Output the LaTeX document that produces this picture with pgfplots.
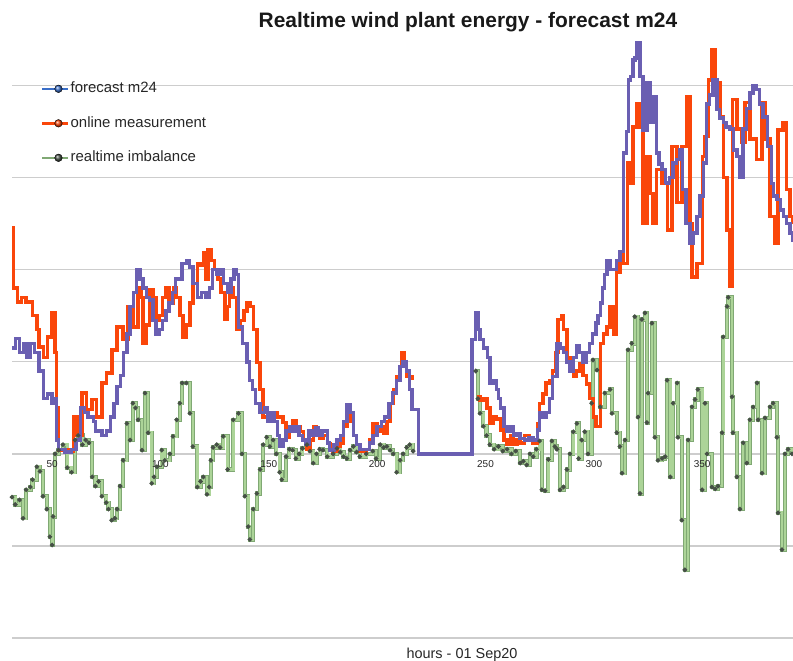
\documentclass[border=0pt]{standalone}
\usepackage{fontspec}
\setmainfont{Liberation Sans}
\usepackage{pgfplots}
\usepackage{pgfplotstable}
\pgfplotsset{compat=1.18}
\definecolor{fcline}{RGB}{106,95,178}
\definecolor{fcleg}{RGB}{58,110,200}
\definecolor{mline}{RGB}{250,70,10}
\definecolor{imlight}{RGB}{172,212,152}
\definecolor{imdark}{RGB}{128,168,116}
\definecolor{imdot}{RGB}{70,80,70}
\definecolor{gridgray}{RGB}{205,205,205}

% forecast m24
\pgfplotstableread{
h v
31.5 11.5
33 12.5
35 11
37 12
38.5 10.5
40 12
42 11
44 9
46 6
48 6.5
50 5.5
51.5 6
52 1.5
53 0.5
56 0.2
59 0.5
61 1.5
63 5
65 4.5
66.5 4
69 3.5
70 2.5
73 2
75 2.5
77 4
78.5 5.5
80 7.3
81.5 8.5
83 11
84.5 13
86 16
87.5 17.5
89 20
90.5 19
92 18
93.5 17
95 16.7
96.5 14.5
98 13
99.5 13.5
101 14.5
102.5 15.5
104 16.4
105.5 17.5
107 19
108.5 19
110 20.7
112 21
113.5 20.3
115 18.5
117 17
119 17.5
121 17
122.5 18
124 20
126 19.5
127.5 20
129 18.5
131 17.5
132.5 19
134 20
135 19.5
136 13.8
138 12
140 10
141 8
142.5 7
144 5.5
146 4.5
148 5
149.5 3.5
151 4.5
152.5 3.5
154 2
155 0.8
156.5 1.5
158 2.5
159.5 3
161 2.5
162.5 3
164 2
165.5 1.5
167 1
168.5 2.5
170 2
171.5 2.8
173 2
174.5 2.5
176 2.5
177 1.2
178 0.4
180 1
181.5 1.5
183 2
184.5 3.5
186 5.3
187.5 4.5
189 2
190.5 1
192 0.5
195 0.5
196.5 1.2
198 2
200 3
202 3.5
203.5 4
205.5 5.5
207 6.6
209 8
210.6 9.5
212 10
213.6 9
215 7
216 4.8
217.5 4.8
219 0
243.8 12.4
245.5 15.3
246.5 13.5
247.5 12.4
249 11.5
251 10.5
252 7.7
253.5 8
255 7
256 6
257 5
258.5 3
260 2.5
261.5 3
263 2
264.5 2.2
266 1.7
268 1.5
270 1.8
272 1.5
274 2.6
275 4.5
276.5 4
278 4.5
279.5 6
281 8.4
283 12
284.5 11.5
286 11
287.5 10
289 9
290.5 10.5
292 11.7
293.5 11
295 10
296.5 11
298 12
299.5 13
301 14.2
302 15
303 16.4
304 18
305 19.5
306 21
307.5 20
309 20
310.5 21
312 22
313.6 32.7
315 35
316 40.6
317 41
318 42.8
319 43
320 44.7
321.3 41
322.7 35.2
324.5 40.3
326 36
327.3 38.8
329 32.7
330 31.5
331.5 30.9
333 29.5
333.8 29.4
335 30
336.6 31.6
338 32
339.8 33
341 28.7
342.5 25
344.4 22.9
346 24
347.6 25.8
349 28
350.5 31.6
352 38
353.5 39
355 40.6
356.8 37.4
358 36.5
359.7 36
361 35.5
362.8 35.3
364.5 33
366 32.3
367.4 30
368.9 35.3
370.5 37.5
372 39.2
373.5 40
375 39.6
376.5 38
378 36.6
380 33.4
382 29.4
383 28
384.5 27.6
386 26.5
387.4 25.8
389 25
390.5 24
391.9 23
}\forecast

% online measurement
\pgfplotstableread{
h v
31.5 24.6
32.2 18
34 16.5
36 17
38 16.5
40 16.5
41 15
43 13.5
44 11.6
46 10.5
48 12.7
50 15.3
51.4 11
52 5
53 0.4
56 0.5
58 0.3
60 4
61.5 2
63.8 6.6
66 4.8
68.4 5.9
70.6 4
73 7.7
75 8.8
77.6 11.3
80 13.8
82.8 12.4
85 16
87.3 13.8
89.7 18
91 17
92 12
93.5 14
95 17.8
96.5 17
98 14.5
99.5 15
101 17
102.5 18
104 16.4
106 18
107.5 17
109 15
110.5 12.7
112 14
113.6 16.4
115 18.5
117 20.7
118.5 20.5
119.8 21.8
121 19
122 22.2
123.5 21
125 20
126.5 19
128 17.5
129.8 14.6
131 16
132 18
133.5 17
135 13.5
136.7 14.5
138.5 15.5
140 16.4
141.5 16
143 13.5
144.6 9.9
146 7
147.4 4
149 4
150.5 3.5
152 4.5
154 4
156.5 3.4
158 1.8
159.5 2.5
161 3.6
162.5 3
164.4 2.4
166 1.5
167.6 0.5
169 1.5
170.5 3
172 2.2
173.6 1.7
175 2
177 1.1
178.5 0.6
179.7 0.3
181.5 0.8
183 1.1
184.5 3
186 4.8
187.5 3.5
189 2
190.5 1
192 0.3
195 0.5
196.5 1.5
198 3.3
200 2.5
201.5 3
203 2.2
204.5 3.5
206 5.5
207.5 7
209 8.4
210.5 9.5
211.5 11
212.5 10
213.6 8.4
215 8.4
216 8
217 nan
246 6.2
247.5 5.8
249 6
250.6 5
252 3.3
253.5 4
255 3.8
257 2.6
258.5 1.5
260 1
261.5 2
263 1
264.5 1.5
266 1.2
268 2
270 1.5
272 1.2
274 3.3
275 5.5
276.5 6.5
278 7.7
279.5 8
281 9
282.5 11
283.5 14.6
285 15
286 13.5
287.6 10.5
289 9.5
290.5 8.4
292 9
293.6 9.8
295 8.5
296.7 7.6
298 6
299.7 4
301 3
303 12
304.5 13
306 13.8
307.5 16
309 13
310.5 19.7
312 22
313.6 20.7
315.4 31.6
316.7 29.4
318 35.5
320 38
321.3 35.5
322.7 25
324.5 32.3
326 28.3
327.3 25
329 30.9
331.5 29.4
334 24.3
336 33.4
338.3 27.3
340.6 33.4
343 38.8
344.4 25
345.3 19.2
347.6 20.7
350 32.3
351.3 34.5
352.8 40.6
354.5 43.9
356 40.3
358.2 36.6
359.7 30
361.5 24.3
362.8 18.2
364 38.5
366 35.3
368.4 33.8
369.8 38.2
372 34.2
375 32
377.6 38.2
379 34.2
381.3 25.8
383.6 22.9
385 35.2
387.3 36
389 28.7
390.5 25.8
391.9 25
}\measured

% realtime imbalance
\pgfplotstableread{
h v
31.5 -4.7
33 -5.5
35 -5
36.6 -7
38 -3.9
40 -3.6
41 -2.8
43 -1.4
44.4 -1.9
45.8 -4.6
47.6 -6
49 -9
50 -9.9
50.5 -6.8
51.4 0
53 0.4
55 1
57 -1.5
59 -2
60.6 1.5
62 2
64 1
65.5 1.5
67 1.2
68.5 -2.5
70 -3.5
71.5 -3
73 -4.6
75 -5.3
76 -6
77.5 -7.2
79 -7
80 -6
81.4 -3.5
82.8 -0.7
84.5 3.3
86 1.5
87.3 5.5
88.5 5
89.7 3.7
91.5 0.4
92.9 6.6
94.3 2.3
96 -3.2
97 -2.5
98.4 -1.4
100.6 0.4
102 -0.7
104.4 0
105.8 1.9
107.5 3.7
109 5.5
110 7.7
112 7.7
113.6 4.4
115 0.8
117 -3.6
118.5 -3
119.8 -2.5
121.5 -4.4
122.5 -3.6
123.3 -0.7
124.3 0.7
126 1
127.5 0.7
129 1.9
131 -1.7
133.6 3.7
136 4.4
137.6 0
139 -4.6
140.5 -7.9
141.3 -9.3
142.8 -6
144.5 -4.3
146 -1.7
147.4 1
149 1.8
150.5 0.8
152 1.5
153.5 0
155 -2
156 -2.8
158 -0.3
159.5 0.5
161 0.4
162.5 -0.5
164 0
165.5 0.6
167.6 1
169 0.3
170.5 -1
172 0
173.5 0.5
175 0.4
177 -0.3
179.7 0
181.5 0.6
183 0.2
184.5 -0.3
186 -0.5
187.5 0.4
189 0.8
190.5 0.2
192 -0.3
195 0
198 0.3
199.5 -0.5
201.4 1
203 0.7
204.5 0.8
206 0.4
207.4 0
209 -2
210.6 -0.7
212 0
213.6 0.7
215 1
216.6 0.3
217.5 nan
245.5 9
246.5 6
247.5 4.4
249 3
250.5 2
252 1
254 0.5
256 0.8
258 0.3
260 0.5
262 0
264 0.3
266 -1
267.5 -0.8
269 -1.2
270.5 0
272 -0.3
273.5 0.5
275 1.4
276 -3.9
277.5 -4
279 -0.6
280.6 1.4
282 0.8
283 0.5
284.4 -3.9
286 -3.6
287.6 -1.7
289 0
290.5 2.4
292.2 3.3
293 -0.5
294.4 1.5
295.8 2.4
297.3 0
299 5.5
299.6 10.2
301.5 9.1
303 5.1
305 6.6
307.5 7
308.4 4.4
310.6 2.3
312 0.8
313 -2.1
314.4 1.5
315.8 11.3
317.5 12
318.9 14.9
320.4 4
321.3 -4.3
322.2 14.6
323.6 15.3
324.5 3.4
325 6.6
326.8 14.2
328.2 1.8
329.6 -0.7
331.5 -0.5
332.9 -0.3
333.8 8
335.3 -2.5
336.6 5.5
338.4 7.7
338.8 1.8
340.6 -7.2
342 -12.6
343.5 1.5
345.3 5.1
346.7 5.9
348 7
350 -3.9
351.3 5.5
352.2 0
354.5 -3.6
356 -3.8
357.3 -3.5
359.2 2.3
359.7 12.7
361.5 16
362 17
363.8 6.2
364.2 2.3
366 -2.5
367.4 -6
368.9 1.2
370.6 -1
372 3.7
373.5 5.1
375.3 7.7
375.8 3.7
377.6 -2.1
379 3.9
381.3 5.1
382.7 5.5
384.5 1.8
385 -6.4
386.8 -10.4
388.2 0
389.6 0.5
391.4 0
}\imbalance

\begin{document}
\begin{tikzpicture}
\useasboundingbox (0,0) rectangle (793bp,661bp);
\begin{axis}[
    at={(12bp,23bp)}, anchor=south west,
    scale only axis,
    width=781bp, height=603bp,
    xmin=31.5, xmax=391.9,
    ymin=-20, ymax=45.5,
    axis line style={draw=none},
    tick style={draw=none},
    xtick={50,100,...,350},
    xticklabels={},
    ytick={-20,-10,...,40},
    yticklabels={},
    ymajorgrids,
    grid style={gridgray, line width=1.3bp},
    unbounded coords=jump,
    legend cell align=left,
    legend style={at={(rel axis cs:0.0334,0.926)}, anchor=north west,
        draw=none, fill=none, font=\fontsize{15}{17}\selectfont,
        text=black!85, row sep=20.5bp, column sep=1bp,
        nodes={inner sep=0pt, text height=11bp, text depth=3bp}},
]
\addplot[const plot, imdark, line width=4.2bp, forget plot] table[x=h, y=v] {\imbalance};
\addplot[const plot, imlight, line width=2.6bp, mark=*, mark size=0.7bp,
    mark options={imdot, draw=imdot}, forget plot] table[x=h, y=v] {\imbalance};
\addplot[const plot, mline, line width=3.4bp, forget plot] table[x=h, y=v] {\measured};
\addplot[const plot, fcline, line width=3.4bp, forget plot] table[x=h, y=v] {\forecast};

% tick labels drawn over the curves, as in the reference
\begin{scope}[every node/.style={anchor=north, inner sep=0pt, yshift=-6.5bp,
    font=\fontsize{10}{12}\selectfont, text=black!85}]
\node at (axis cs:50,0) {50};
\node at (axis cs:100,0) {100};
\node at (axis cs:150,0) {150};
\node at (axis cs:200,0) {200};
\node at (axis cs:250,0) {250};
\node at (axis cs:300,0) {300};
\node at (axis cs:350,0) {350};
\end{scope}

\addlegendimage{legend image code/.code={
    \draw[fcleg, line width=2.4bp] (0bp,0bp) -- (26bp,0bp);
    \shade[ball color=fcleg] (16bp,0bp) circle (3.8bp);}}
\addlegendentry{forecast m24}
\addlegendimage{legend image code/.code={
    \draw[mline, line width=2.4bp] (0bp,0bp) -- (26bp,0bp);
    \shade[ball color=mline] (16bp,0bp) circle (3.8bp);}}
\addlegendentry{online measurement}
\addlegendimage{legend image code/.code={
    \draw[imdark, line width=2.4bp] (0bp,0bp) -- (26bp,0bp);
    \shade[ball color=imdot] (16bp,0bp) circle (3.8bp);}}
\addlegendentry{realtime imbalance}
\end{axis}
\node[anchor=base, font=\fontsize{21}{25}\selectfont\bfseries, text=black!90] at (468bp,633bp) {Realtime wind plant energy - forecast m24};
\node[anchor=base, font=\fontsize{14.5}{17}\selectfont, text=black!85] at (462bp,3bp) {hours - 01 Sep20};
\end{tikzpicture}
\end{document}
